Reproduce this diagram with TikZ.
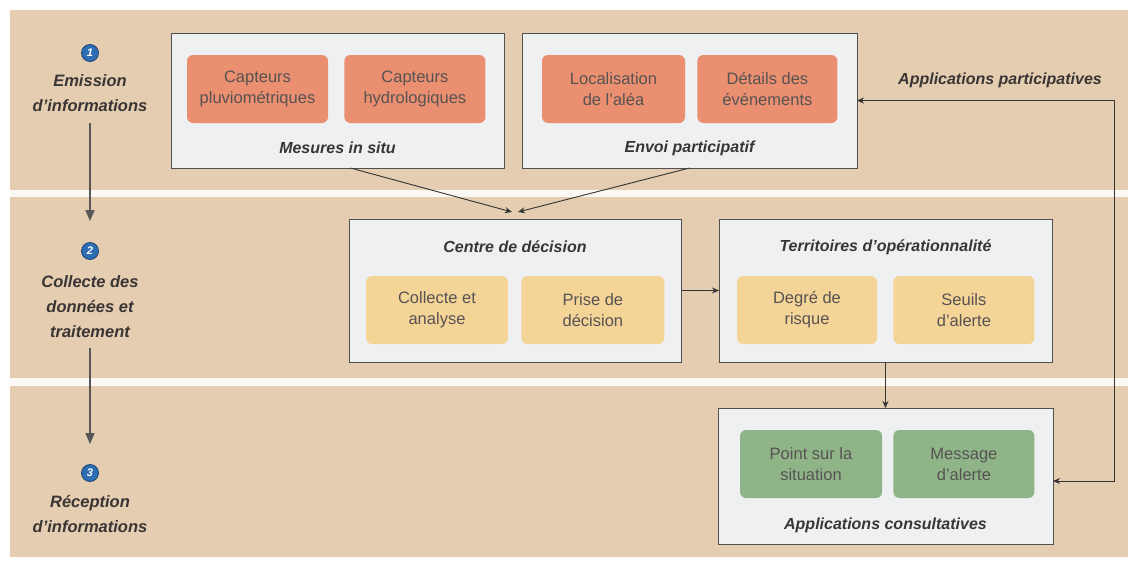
\documentclass[tikz,border=0pt]{standalone}
\usepackage{fontspec}
\setmainfont{Liberation Sans}
\usepackage{xcolor}
\usetikzlibrary{arrows.meta,positioning}
\definecolor{band}{HTML}{E4CDB0}
\definecolor{gap}{HTML}{FCF9F4}
\definecolor{panelbg}{HTML}{EEF0F2}
\definecolor{panelline}{HTML}{505050}
\definecolor{sensor}{HTML}{EA8F70}
\definecolor{process}{HTML}{F5D498}
\definecolor{notice}{HTML}{8FB488}
\definecolor{ink}{HTML}{3A3535}
\definecolor{numblue}{HTML}{2C6DB3}

\begin{document}
\begin{tikzpicture}[
  x=1pt,y=-1pt,
  panel/.style={draw=panelline,line width=1pt,fill=panelbg,inner sep=0pt,outer sep=0pt,minimum height=135pt},
  tile/.style={rounded corners=6pt,inner sep=0pt,minimum width=141pt,minimum height=68pt,
               align=center,text=ink!85,font=\fontsize{16.5}{21}\selectfont},
  title/.style={font=\fontsize{16}{20}\selectfont\bfseries\itshape,text=ink},
  stage/.style={align=center,font=\fontsize{16.5}{25}\selectfont\bfseries\itshape,text=ink},
  stepnum/.style={circle,fill=numblue,draw=numblue!65!black,line width=0.8pt,inner sep=0pt,
                  minimum size=17pt,text=white,font=\fontsize{11}{11}\selectfont\bfseries\itshape},
  flow/.style={-{Triangle[length=11pt,width=9pt]},draw=black!66,line width=1.6pt},
  link/.style={-{Stealth[length=7pt,width=6pt]},draw=black!80,line width=0.9pt},
  both/.style={link,{Stealth[length=7pt,width=6pt]}-{Stealth[length=7pt,width=6pt]}}
]
  \useasboundingbox (0,0) rectangle (1130,562);
  % bands
  \fill[white] (0,0) rectangle (1130,562);
  \fill[band] (10,10) rectangle (1128,190);
  \fill[gap] (10,190) rectangle (1128,197);
  \fill[band] (10,197) rectangle (1128,378);
  \fill[gap] (10,378) rectangle (1128,386);
  \fill[band] (10,386) rectangle (1128,557);

  % stages
  \node[stepnum] (num1) at (90,53) {1};
  \node[stage] (stage1) at (90,93) {Emission\\d’informations};
  \node[stepnum] (num2) at (90,251) {2};
  \node[stage] (stage2) at (90,307) {Collecte des\\données et\\traitement};
  \node[stepnum] (num3) at (90,473) {3};
  \node[stage] (stage3) at (90,514) {Réception\\d’informations};

  \draw[flow,shorten <=8pt,shorten >=21pt] (stage1) -- (num2);
  \draw[flow,shorten <=6pt,shorten >=20pt] (stage2) -- (num3);

  % panels
  \node[panel,minimum width=333pt] (insitu) at (337.5,100.5) {};
  \node[panel,minimum width=335pt] (envoi) at (689.5,100.5) {};
  \node[panel,minimum width=332pt,minimum height=143pt] (centre) at (515,290.5) {};
  \node[panel,minimum width=333pt,minimum height=143pt] (territ) at (885.5,290.5) {};
  \node[panel,minimum width=335pt,minimum height=136pt] (consult) at (885.5,476) {};

  \node[title] (t-insitu) at (337.5,148) {Mesures in situ};
  \node[title] (t-envoi) at (689.5,148) {Envoi participatif};
  \node[title] (t-centre) at (515,247) {Centre de décision};
  \node[title] (t-territ) at (885.5,247) {Territoires d’opérationnalité};
  \node[title] (t-consult) at (885.5,525) {Applications consultatives};
  \node[title] (t-partic) at (1000,80) {Applications participatives};

  % tiles
  \node[tile,fill=sensor] (pluvio) at (257.5,89) {Capteurs\\pluviométriques};
  \node[tile,fill=sensor,right=16pt of pluvio] (hydro) {Capteurs\\hydrologiques};
  \node[tile,fill=sensor,minimum width=143pt] (local) at (613.5,89) {Localisation\\de l'aléa};
  \node[tile,fill=sensor,right=12pt of local,minimum width=140pt] (details) {Détails des\\événements};
  \node[tile,fill=process,minimum width=142pt] (collecte) at (437,310) {Collecte et\\analyse};
  \node[tile,fill=process,right=13pt of collecte,minimum width=143pt] (prise) {Prise de\\décision};
  \node[tile,fill=process,minimum width=140pt] (degre) at (807,310) {Degré de\\risque};
  \node[tile,fill=process,right=16pt of degre] (seuils) {Seuils\\d'alerte};
  \node[tile,fill=notice,minimum width=142pt] (point) at (811,464) {Point sur la\\situation};
  \node[tile,fill=notice,right=11pt of point] (message) {Message\\d'alerte};

  % links
  \draw[link] ([xshift=13pt]insitu.south) -- ([xshift=-3pt,yshift=7pt]centre.north);
  \draw[link] (envoi.south) -- ([xshift=3pt,yshift=7pt]centre.north);
  \draw[link] (centre.east) -- (territ.west);
  \draw[link] (territ.south) -- (consult.north);
  \coordinate (back) at (1114,100.5);
  \draw[both] (envoi.east) -- (back) |- ([yshift=-5pt]consult.east);
\end{tikzpicture}
\end{document}
